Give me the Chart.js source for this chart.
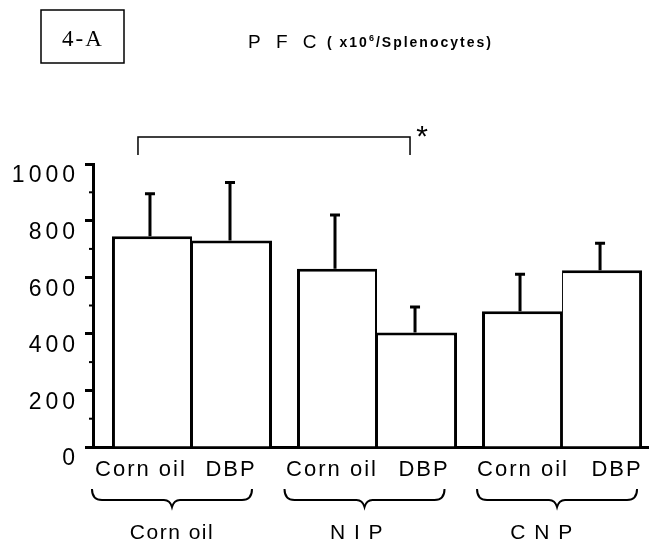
<!DOCTYPE html>
<html>
<head>
<meta charset="utf-8">
<script src="https://cdn.jsdelivr.net/npm/chart.js@4.4.1/dist/chart.umd.min.js"></script>
<style>
body { margin: 0; background: #fff; }
#wrap { width: 649px; height: 546px; }
</style>
</head>
<body>
<div id="wrap"><canvas id="myChart" width="649" height="546"></canvas></div>
<script>
// treatment groups along the x axis, two vehicles in each
var groups = ['Corn oil', 'N I P', 'C N P'];
var vehicles = ['Corn oil', 'DBP'];
var cornOilMean = [745, 630, 480];
var cornOilSD = [150, 190, 130];
var dbpMean = [730, 405, 625];
var dbpSD = [205, 90, 95];
var yTicks = [0, 200, 400, 600, 800, 1000];
var panel = '4-A';
var title = 'P F C';
var unit = ['( x10', '6', '/Splenocytes)'];
// significant pair: [group, vehicle]
var sigFrom = [0, 0];
var sigTo = [1, 1];

var means = [cornOilMean, dbpMean];
var sds = [cornOilSD, dbpSD];

function txt(ctx, s, x, y, font, align, spacing) {
	ctx.font = font;
	ctx.textAlign = align || 'center';
	ctx.textBaseline = 'alphabetic';
	ctx.letterSpacing = (spacing || 0) + 'px';
	ctx.fillText(s, x, y);
}

const annotate = {
	id: 'annotate',
	beforeDraw(chart) {
		const ctx = chart.ctx;
		ctx.save();
		ctx.fillStyle = '#fff';
		ctx.fillRect(0, 0, chart.width, chart.height);
		ctx.restore();
		// wide digits on the y axis
		ctx.letterSpacing = '4px';
	},
	afterDraw(chart) {
		const ctx = chart.ctx;
		const y = chart.scales.y;
		const left = chart.chartArea.left;
		ctx.save();
		ctx.strokeStyle = '#000';
		ctx.fillStyle = '#000';
		ctx.lineCap = 'butt';

		// minor ticks
		ctx.lineWidth = 2;
		for (var v = 100; v < 1000; v += 200) {
			var py = y.getPixelForValue(v);
			ctx.beginPath();
			ctx.moveTo(left - 4, py);
			ctx.lineTo(left, py);
			ctx.stroke();
		}

		// error bars (upper only)
		ctx.lineWidth = 3;
		for (var d = 0; d < 2; d++) {
			var meta = chart.getDatasetMeta(d);
			meta.data.forEach(function(bar, i) {
				var top = y.getPixelForValue(means[d][i] + sds[d][i]);
				ctx.beginPath();
				ctx.moveTo(bar.x - 2, bar.y);
				ctx.lineTo(bar.x - 2, top);
				ctx.moveTo(bar.x - 7, top);
				ctx.lineTo(bar.x + 3, top);
				ctx.stroke();
			});
		}

		// labels under bars, braces, group names (the print spreads them a little wider than the bars)
		var m0 = chart.getDatasetMeta(0), m1 = chart.getDatasetMeta(1);
		for (var i = 0; i < groups.length; i++) {
			txt(ctx, vehicles[0], m0.data[i].x - 11 + 6 * i, 476, '22px "Liberation Sans"', 'center', 2);
			txt(ctx, vehicles[1], m1.data[i].x - 1 + 8 * i, 476, '22px "Liberation Sans"', 'center', 2);
			var gx = (m0.data[i].x + m1.data[i].x) / 2;
			var cx = gx - 20 + 7.5 * i;
			var x0 = cx - 80, x1 = cx + 80;
			ctx.lineWidth = 2;
			ctx.beginPath();
			ctx.moveTo(x0, 489);
			ctx.quadraticCurveTo(x0, 500, x0 + 10, 500);
			ctx.lineTo(cx - 8, 500);
			ctx.quadraticCurveTo(cx - 2, 500, cx, 507);
			ctx.quadraticCurveTo(cx + 2, 500, cx + 8, 500);
			ctx.lineTo(x1 - 10, 500);
			ctx.quadraticCurveTo(x1, 500, x1, 489);
			ctx.stroke();
			txt(ctx, groups[i], gx - 20, 539, '21px "Liberation Sans"', 'center', 1.5);
		}

		// significance bracket
		var a = chart.getDatasetMeta(sigFrom[1]).data[sigFrom[0]].x - 14;
		var b = chart.getDatasetMeta(sigTo[1]).data[sigTo[0]].x - 7;
		ctx.lineWidth = 1.5;
		ctx.beginPath();
		ctx.moveTo(a, 155);
		ctx.lineTo(a, 137);
		ctx.lineTo(b, 137);
		ctx.lineTo(b, 155);
		ctx.stroke();
		txt(ctx, '*', b + 12, 146, '30px "Liberation Sans"', 'center', 0);

		// panel label and title
		ctx.lineWidth = 1.5;
		ctx.strokeRect(41, 10, 83, 53);
		txt(ctx, panel, 83, 46, '23px "Liberation Serif"', 'center', 2);
		txt(ctx, title, 248, 48, '19px "Liberation Sans"', 'left', 5);
		var ux = 327;
		txt(ctx, unit[0], ux, 47, 'bold 14px "Liberation Sans"', 'left', 2);
		var w = ctx.measureText(unit[0]).width;
		txt(ctx, unit[1], ux + w, 41, 'bold 9px "Liberation Sans"', 'left', 0);
		var w2 = ctx.measureText(unit[1]).width;
		txt(ctx, unit[2], ux + w + w2 + 2, 47, 'bold 14px "Liberation Sans"', 'left', 2);
		ctx.restore();
	}
};

const ctx = document.getElementById('myChart');
const myChart = new Chart(ctx, {
	type: 'bar',
	data: {
		datasets: [{
			label: vehicles[0],
			data: cornOilMean.map(function(v, i) { return { x: i, y: v }; }),
			backgroundColor: '#ffffff',
			borderColor: '#000000',
			borderWidth: { top: 3, left: 3, right: 2, bottom: 0 },
			borderSkipped: false,
			categoryPercentage: 0.865,
			barPercentage: 1
		}, {
			label: vehicles[1],
			data: dbpMean.map(function(v, i) { return { x: i, y: v }; }),
			backgroundColor: '#ffffff',
			borderColor: '#000000',
			borderWidth: { top: 3, left: 1, right: 3, bottom: 0 },
			borderSkipped: false,
			categoryPercentage: 0.865,
			barPercentage: 1
		}]
	},
	options: {
		responsive: false,
		animation: false,
		layout: { padding: { top: 164, left: 0, right: 0, bottom: 0 } },
		plugins: {
			legend: { display: false },
			tooltip: { enabled: false }
		},
		scales: {
			x: {
				type: 'linear',
				offset: false,
				min: -0.535,
				max: 2.47,
				afterBuildTicks: function(s) { s.ticks = groups.map(function(g, i) { return { value: i }; }); },
				afterFit: function(s) { s.height = 99; },
				ticks: { display: false },
				grid: { display: false },
				border: { color: '#000', width: 3 }
			},
			y: {
				min: 0,
				max: 1000,
				afterFit: function(s) { s.width = 93; },
				afterBuildTicks: function(s) { s.ticks = yTicks.map(function(v) { return { value: v }; }); },
				ticks: {
					font: { family: 'Liberation Sans', size: 23 },
					color: '#000',
					padding: 6,
					labelOffset: 12,
					callback: function(v) { return String(v); }
				},
				grid: { drawOnChartArea: false, tickLength: 8, tickWidth: 3, tickColor: '#000' },
				border: { color: '#000', width: 3 }
			}
		}
	},
	plugins: [annotate]
});
</script>
</body>
</html>
